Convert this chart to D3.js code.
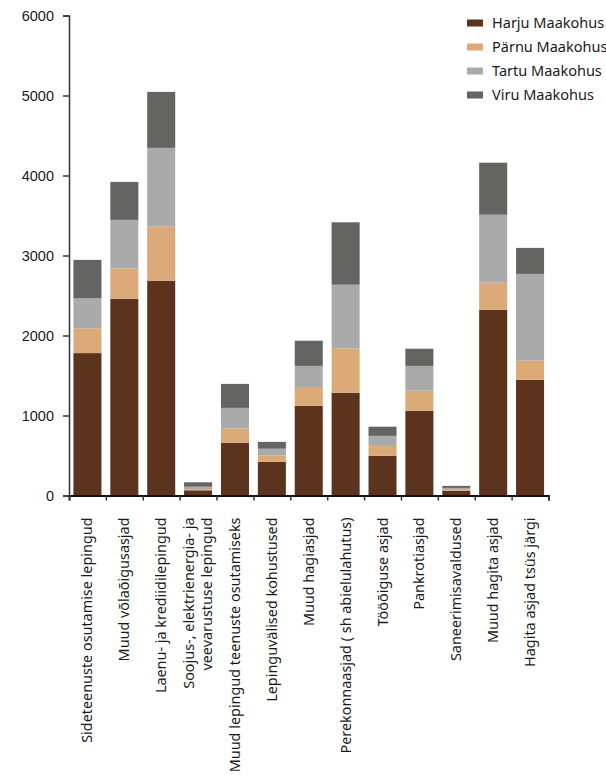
<!DOCTYPE html>
<html>
<head>
<meta charset="utf-8">
<script src="https://cdn.jsdelivr.net/npm/d3@7"></script>
<style>
  body { margin: 0; background: #fff; }
  svg { font-family: "Noto Sans", sans-serif; }
</style>
</head>
<body>
<svg id="chart" width="606" height="775"></svg>
<script>
// categories (multi-line labels split with "\n")
var categories = [
    "Sideteenuste osutamise lepingud",
    "Muud võlaõigusasjad",
    "Laenu- ja krediidilepingud",
    "Soojus-, elektrienergia- ja\nveevarustuse lepingud",
    "Muud lepingud teenuste osutamiseks",
    "Lepinguvälised kohustused",
    "Muud hagiasjad",
    "Perekonnaasjad ( sh abielulahutus)",
    "Tööõiguse asjad",
    "Pankrotiasjad",
    "Saneerimisavaldused",
    "Muud hagita asjad",
    "Hagita asjad tsüs järgi"
];
var seriesNames = ["Harju Maakohus", "Pärnu Maakohus", "Tartu Maakohus", "Viru Maakohus"];
var harju = [1780, 2460, 2685, 65, 660, 420, 1120, 1285, 495, 1060, 60, 2320, 1445];
var parnu = [310, 375, 675, 15, 175, 80, 225, 550, 125, 250, 20, 340, 240];
var tartu = [375, 610, 985, 30, 260, 85, 275, 800, 125, 310, 15, 850, 1085];
var viru = [480, 475, 700, 55, 300, 85, 315, 780, 115, 215, 25, 650, 325];
var yTicks = [0, 1000, 2000, 3000, 4000, 5000, 6000];
var colors = ["#5c341d", "#dcaa78", "#aaaaaa", "#646462"];

var margin = { top: 15.5, left: 69 };
var width = 479.5, height = 480;
const fontSize = 14.4;

var rows = categories.map(function (c, i) {
    return { cat: c, h: harju[i], p: parnu[i], t: tartu[i], v: viru[i] };
});
var keys = ["h", "p", "t", "v"];
var stacked = d3.stack().keys(keys)(rows);

var x = d3.scaleBand().domain(categories).range([0, width]).paddingInner(0.24).paddingOuter(0.12);
var y = d3.scaleLinear().domain([0, 6000]).range([height, 0]);

var svg = d3.select("#chart").append("g")
    .attr("transform", "translate(" + margin.left + "," + margin.top + ")");

svg.selectAll("g.layer")
    .data(stacked)
    .enter().append("g")
    .attr("class", "layer")
    .attr("fill", function (d, i) { return colors[i]; })
    .selectAll("rect")
    .data(function (d) { return d; })
    .enter().append("rect")
    .attr("x", function (d) { return x(d.data.cat); })
    .attr("y", function (d) { return y(d[1]); })
    .attr("width", x.bandwidth())
    .attr("height", function (d) { return y(d[0]) - y(d[1]); });

// y axis
var yAxis = svg.append("g")
    .call(d3.axisLeft(y).tickValues(yTicks).tickSize(6).tickPadding(9).tickFormat(d3.format("d")));
yAxis.select(".domain").attr("stroke", "#333").attr("stroke-width", 1.5);
yAxis.selectAll(".tick line").attr("stroke", "#333").attr("stroke-width", 1.5);
yAxis.selectAll("text").style("font-size", "14.5px").attr("fill", "#1a1a1a");

// x axis with ticks at band edges
var edgeScale = d3.scaleLinear().domain([0, categories.length]).range([0, width]);
var xAxis = svg.append("g")
    .attr("transform", "translate(0," + height + ")")
    .call(d3.axisBottom(edgeScale).ticks(categories.length).tickSize(5).tickFormat(""));
xAxis.select(".domain").attr("stroke", "#111").attr("stroke-width", 1.8);
xAxis.selectAll(".tick line").attr("stroke", "#333").attr("stroke-width", 1.5);

// category labels, rotated
var labels = svg.append("g").selectAll("text")
    .data(categories)
    .enter().append("text")
    .attr("transform", function (d) {
        return "translate(" + (x(d) + x.bandwidth() / 2) + "," + (height + 22) + ") rotate(-90)";
    })
    .attr("text-anchor", "end")
    .style("font-size", fontSize + "px")
    .attr("fill", "#1a1a1a");

labels.each(function (d) {
    var lines = d.split("\n");
    var t = d3.select(this);
    lines.forEach(function (line, i) {
        t.append("tspan")
            .attr("x", 0)
            .attr("y", (i - (lines.length - 1) / 2) * 18)
            .attr("dy", "0.35em")
            .text(line);
    });
});

// legend
var legend = d3.select("#chart").append("g")
    .attr("transform", "translate(467,23)");
var items = legend.selectAll("g")
    .data(seriesNames)
    .enter().append("g")
    .attr("transform", function (d, i) { return "translate(0," + i * 24 + ")"; });
items.append("rect")
    .attr("x", 0).attr("y", -3.5)
    .attr("width", 16).attr("height", 7)
    .attr("fill", function (d, i) { return colors[i]; });
items.append("text")
    .attr("x", 25)
    .attr("dy", "0.35em")
    .style("font-size", "14.5px")
    .attr("fill", "#1a1a1a")
    .text(function (d) { return d; });
</script>
</body>
</html>
